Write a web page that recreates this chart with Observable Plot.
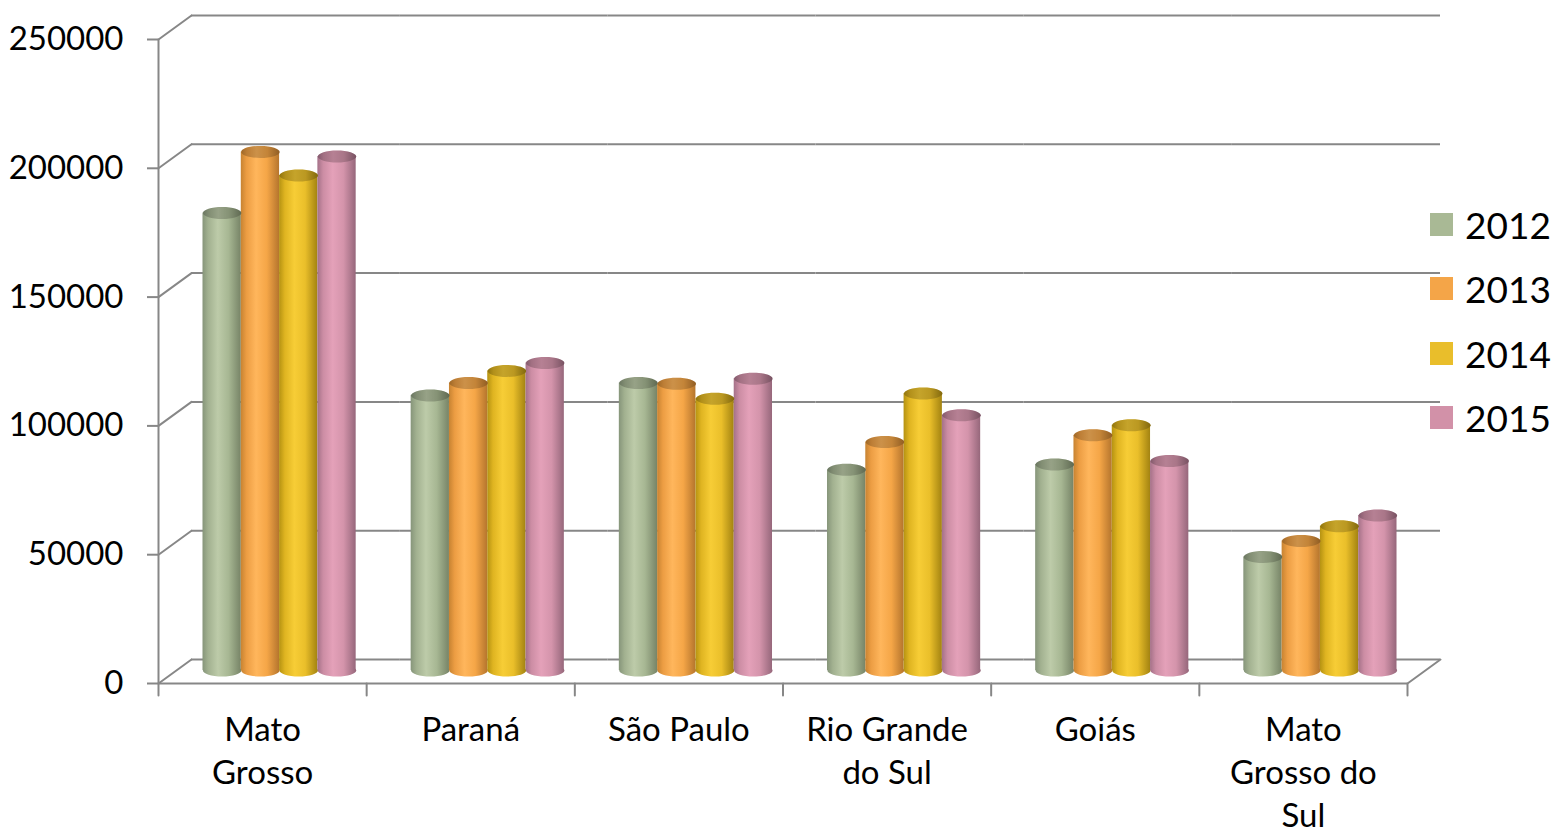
<!DOCTYPE html>
<html>
<head>
<meta charset="utf-8">
<script src="https://cdn.jsdelivr.net/npm/d3@7"></script>
<script src="https://cdn.jsdelivr.net/npm/@observablehq/plot@0.6"></script>
<style>
  html, body { margin: 0; padding: 0; background: #fff; }
  #wrap { position: relative; width: 1553px; height: 831px; font-family: Lato, "Open Sans", sans-serif; }
  #legend { position: absolute; left: 1430px; top: 192px; }
  #legend .item { display: flex; align-items: center; height: 64.5px; }
  #legend .sw { width: 23px; height: 23px; margin-right: 12px; }
  #legend .lb { font-size: 37px; line-height: 1; color: #000; }
</style>
</head>
<body>
<div id="wrap">
  <svg width="0" height="0" style="position:absolute">
    <defs>
      <linearGradient id="cyl-2012" x1="0" x2="1" y1="0" y2="0">
        <stop offset="0%" stop-color="#86957a"/>
        <stop offset="15%" stop-color="#a2b190"/>
        <stop offset="40%" stop-color="#bdcba9"/>
        <stop offset="68%" stop-color="#a7b793"/>
        <stop offset="100%" stop-color="#778467"/>
      </linearGradient>
      <linearGradient id="cyl-2013" x1="0" x2="1" y1="0" y2="0">
        <stop offset="0%" stop-color="#c78332"/>
        <stop offset="15%" stop-color="#ec9d43"/>
        <stop offset="40%" stop-color="#ffb65c"/>
        <stop offset="68%" stop-color="#f5a647"/>
        <stop offset="100%" stop-color="#b5752d"/>
      </linearGradient>
      <linearGradient id="cyl-2014" x1="0" x2="1" y1="0" y2="0">
        <stop offset="0%" stop-color="#b59212"/>
        <stop offset="15%" stop-color="#dfb421"/>
        <stop offset="40%" stop-color="#f7cd36"/>
        <stop offset="68%" stop-color="#eabf2a"/>
        <stop offset="100%" stop-color="#a38311"/>
      </linearGradient>
      <linearGradient id="cyl-2015" x1="0" x2="1" y1="0" y2="0">
        <stop offset="0%" stop-color="#a47188"/>
        <stop offset="15%" stop-color="#cc8da4"/>
        <stop offset="40%" stop-color="#e4a1b9"/>
        <stop offset="68%" stop-color="#d494ab"/>
        <stop offset="100%" stop-color="#96677b"/>
      </linearGradient>
    </defs>
  </svg>
  <div id="chart"></div>
  <div id="legend"></div>
</div>
<script>
// States along the horizontal axis and their wrapped labels
const states = ["Mato Grosso", "Paraná", "São Paulo", "Rio Grande do Sul", "Goiás", "Mato Grosso do Sul"];
const stateLabels = ["Mato\nGrosso", "Paraná", "São Paulo", "Rio Grande\ndo Sul", "Goiás", "Mato\nGrosso do\nSul"];

// Series, one value per state
const years = ["2012", "2013", "2014", "2015"];
const values2012 = [177600, 106800, 111600, 77900, 80000, 44100];
const values2013 = [201300, 111600, 111300, 88700, 91300, 50300];
const values2014 = [192200, 116300, 105500, 107500, 95200, 56000];
const values2015 = [199500, 119400, 113300, 99100, 81300, 60200];

// Value axis ticks
const yTicks = [0, 50000, 100000, 150000, 200000, 250000];

const legendColors = ["#a9b995", "#f4a548", "#e9be2b", "#d291a8"];

const series = [values2012, values2013, values2014, values2015];
const rows = [];
states.forEach((s, i) => years.forEach((y, j) => rows.push({state: s, year: y, value: series[j][i]})));
const labelOf = new Map(states.map((s, i) => [s, stateLabels[i]]));

// Layout
const width = 1553, height = 831;
const marginTop = 39, marginBottom = 148, marginLeft = 158, marginRight = 146;
const innerH = height - marginTop - marginBottom;
const gridColor = "#878787";
// Oblique offset of the back wall (pixels)
const depthDx = 33, depthDy = -24;
const depthLen = Math.hypot(depthDx, depthDy);
const depthAngle = Math.atan2(depthDx, -depthDy) * 180 / Math.PI;
// Cylinders stand half way into the depth
const cylDx = 17, cylDy = -13;
const rx = 19.2, ry = 6;

// Ellipse symbol for cylinder caps
function ellipse(a, b) {
  const k = 0.5523;
  return {
    draw(ctx) {
      ctx.moveTo(a, 0);
      ctx.bezierCurveTo(a, b * k, a * k, b, 0, b);
      ctx.bezierCurveTo(-a * k, b, -a, b * k, -a, 0);
      ctx.bezierCurveTo(-a, -b * k, -a * k, -b, 0, -b);
      ctx.bezierCurveTo(a * k, -b, a, -b * k, a, 0);
      ctx.closePath();
    }
  };
}
// Plain line segment for vectors
const segment = {draw(ctx, l) { ctx.moveTo(0, 0); ctx.lineTo(0, -l); }};
const cap = ellipse(rx, ry);
const line = {stroke: gridColor, strokeWidth: 2};
const seg = {shape: segment, anchor: "start", ...line};

const chart = Plot.plot({
  width, height, marginTop, marginBottom, marginLeft, marginRight,
  style: {fontFamily: "Lato, 'Open Sans', sans-serif", fontSize: "33px", color: "#000", background: "transparent", overflow: "visible"},
  fx: {domain: states, padding: 0, round: false},
  x: {domain: years, paddingInner: 0, paddingOuter: 0.718, round: false, axis: null},
  y: {domain: [0, 250000], axis: null},
  color: {type: "ordinal", domain: years, range: years.map((y) => `url(#cyl-${y})`)},
  marks: [
    // back wall gridlines and floor back edge
    Plot.ruleY(yTicks, {...line, dx: depthDx, dy: depthDy}),
    // side wall diagonals
    Plot.vector(yTicks, {y: (d) => d, fx: () => states[0], frameAnchor: "left", length: depthLen, rotate: depthAngle, ...seg}),
    Plot.vector([0], {fx: () => states[states.length - 1], frameAnchor: "bottom-right", length: depthLen, rotate: depthAngle, ...seg}),
    // cylinders: base cap, body, top cap
    Plot.dot(rows, {fx: "state", x: "year", y: () => 0, symbol: cap, fill: "year", stroke: null, dx: cylDx, dy: cylDy}),
    Plot.barY(rows, {fx: "state", x: "year", y: "value", fill: "year", dx: cylDx, dy: cylDy}),
    Plot.dot(rows, {fx: "state", x: "year", y: "value", symbol: cap, fill: "year", stroke: null, dx: cylDx, dy: cylDy}),
    Plot.dot(rows, {fx: "state", x: "year", y: "value", symbol: cap, fill: "#000", fillOpacity: 0.2, stroke: null, dx: cylDx, dy: cylDy}),
    // floor front edge and value axis line
    Plot.ruleY([0], line),
    Plot.vector([0], {fx: () => states[0], frameAnchor: "bottom-left", length: innerH, rotate: 0, ...seg}),
    // category separators below the floor
    Plot.vector([0], {frameAnchor: "bottom-left", length: 12, rotate: 180, ...seg}),
    Plot.vector([0], {fx: () => states[states.length - 1], frameAnchor: "bottom-right", length: 12, rotate: 180, ...seg}),
    Plot.axisY(yTicks, {tickSize: 11, tickPadding: 24, tickFormat: d3.format("d"), stroke: gridColor, strokeWidth: 2, fill: "#000", fontSize: 33, label: null}),
    Plot.axisFx({anchor: "bottom", tickSize: 0, tickPadding: 27, tickFormat: (d) => labelOf.get(d), fontSize: 33, lineHeight: 1.3, fill: "#000", label: null})
  ]
});
document.getElementById("chart").append(chart);

// Legend
const legend = document.getElementById("legend");
years.forEach((y, i) => {
  const item = document.createElement("div");
  item.className = "item";
  item.innerHTML = `<div class="sw" style="background:${legendColors[i]}"></div><div class="lb">${y}</div>`;
  legend.append(item);
});
</script>
</body>
</html>
